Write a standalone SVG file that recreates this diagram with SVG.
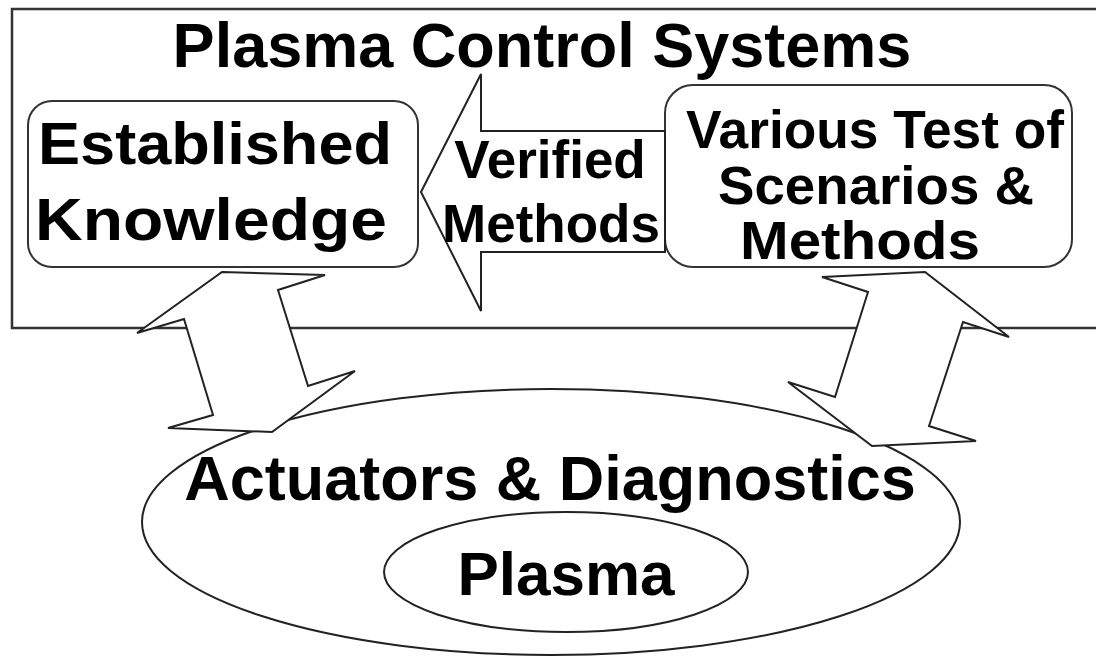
<svg xmlns="http://www.w3.org/2000/svg" width="1096" height="658" viewBox="0 0 1096 658">
  <style>
    .frame { fill: #ffffff; stroke: #333333; stroke-width: 2.5; }
    .box { fill: #ffffff; stroke: #333333; stroke-width: 2; }
    .oval { fill: #ffffff; stroke: #222222; stroke-width: 2; }
    .arrow { fill: #ffffff; stroke: #222222; stroke-width: 2; stroke-linejoin: miter; }
    .lbl { font-family: "Liberation Sans", Arial, sans-serif; font-weight: bold; fill: #000000; text-anchor: middle; }
  </style>
  <rect width="1096" height="658" fill="#ffffff"/>

  <!-- outer container -->
  <g id="plasma-control-systems">
    <rect class="frame" x="12" y="9" width="1100" height="319"/>
    <text class="lbl" x="542" y="67" font-size="63">Plasma Control Systems</text>
  </g>

  <g id="established-knowledge">
    <rect class="box" x="28" y="101" width="390" height="166" rx="24" ry="24"/>
    <text class="lbl" x="215" y="164" font-size="59" textLength="354" lengthAdjust="spacingAndGlyphs">Established</text>
    <text class="lbl" x="211" y="240" font-size="59" textLength="352" lengthAdjust="spacingAndGlyphs">Knowledge</text>
  </g>

  <g id="various-tests">
    <rect class="box" x="665" y="85" width="407" height="182" rx="28" ry="28"/>
    <text class="lbl" x="875" y="148" font-size="53" textLength="378" lengthAdjust="spacingAndGlyphs">Various Test of</text>
    <text class="lbl" x="876" y="204" font-size="53" textLength="316" lengthAdjust="spacingAndGlyphs">Scenarios &amp;</text>
    <text class="lbl" x="860" y="259" font-size="53" textLength="240" lengthAdjust="spacingAndGlyphs">Methods</text>
  </g>

  <g id="actuators-diagnostics">
    <ellipse class="oval" cx="551" cy="522" rx="409" ry="133"/>
    <text class="lbl" x="550" y="500" font-size="63">Actuators &amp; Diagnostics</text>
  </g>

  <g id="plasma">
    <ellipse class="oval" cx="566" cy="572" rx="182" ry="60"/>
    <text class="lbl" x="566" y="595" font-size="62">Plasma</text>
  </g>

  <g id="connectors">
    <!-- verified methods flow back to established knowledge -->
    <polygon class="arrow" points="421,192 481,74 481,131 665,131 665,252 481,252 481,311"/>
    <text class="lbl" x="550" y="178" font-size="53">Verified</text>
    <text class="lbl" x="551" y="242" font-size="53">Methods</text>

    <!-- two-way exchange, left -->
    <polygon class="arrow" points="222,272 325,275 278,290 308,386 355,371 272,432 168,428 213,415 184,319 137,333"/>

    <!-- two-way exchange, right -->
    <polygon class="arrow" points="822,277 925,272 1009,337 963,322 929,426 976,441 872,446 788,382 835,397 868,292"/>
  </g>
</svg>
